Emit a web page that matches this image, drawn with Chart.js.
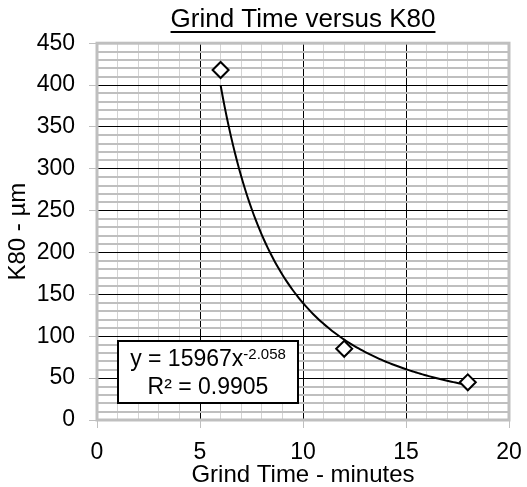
<!DOCTYPE html>
<html lang="en">
<head>
    <meta charset="UTF-8">
    <title>Grind Time versus K80</title>
    <script src="https://cdn.jsdelivr.net/npm/chart.js"></script>
    <style>
        html, body { margin: 0; padding: 0; background: #ffffff; }
        #wrap { width: 527px; height: 487px; }
    </style>
</head>
<body>
    <div id="wrap"><canvas id="grindChart" width="527" height="487"></canvas></div>

    <script>
        // data
        const grindTimes = [6, 12, 18];
        const k80Values = [418, 85, 45];

        // power trendline shown on the chart: y = a * x^b
        const trendCoef = 15967;
        const trendExp = -2.058;
        const trendLabel = ['y = 15967x', '-2.058', 'R² = 0.9905'];

        const xTicks = [0, 5, 10, 15, 20];
        const yTicks = [0, 50, 100, 150, 200, 250, 300, 350, 400, 450];

        const trendPoints = [];
        for (let i = 0; i <= 120; i++) {
            const x = grindTimes[0] + (grindTimes[grindTimes.length - 1] - grindTimes[0]) * i / 120;
            trendPoints.push({ x: x, y: trendCoef * Math.pow(x, trendExp) });
        }

        const FONT = "'Liberation Sans', Arial, sans-serif";

        // gray frame round the plot area, drawn over the grid
        const frame = {
            id: 'frame',
            beforeDatasetsDraw(chart) {
                const a = chart.chartArea, ctx = chart.ctx;
                ctx.save();
                ctx.strokeStyle = '#bfbfbf';
                ctx.lineWidth = 3;
                ctx.strokeRect(a.left, a.top, a.right - a.left, a.bottom - a.top);
                ctx.restore();
            }
        };

        // underline title + equation box
        const extras = {
            id: 'extras',
            afterDraw(chart) {
                const ctx = chart.ctx;
                ctx.save();
                // underline
                ctx.font = '26px ' + FONT;
                const tw = ctx.measureText(chart.options.plugins.title.text).width;
                const cx = (chart.chartArea.left + chart.chartArea.right) / 2;
                ctx.strokeStyle = '#000';
                ctx.lineWidth = 2;
                ctx.beginPath();
                ctx.moveTo(cx - tw / 2, 32);
                ctx.lineTo(cx + tw / 2, 32);
                ctx.stroke();

                // equation box
                const bx = 118, by = 341, bw = 180, bh = 62;
                ctx.fillStyle = '#fff';
                ctx.fillRect(bx, by, bw, bh);
                ctx.lineWidth = 2;
                ctx.strokeRect(bx, by, bw, bh);
                ctx.fillStyle = '#000';
                ctx.textBaseline = 'alphabetic';
                ctx.font = '23px ' + FONT;
                const w1 = ctx.measureText(trendLabel[0]).width;
                ctx.font = '15px ' + FONT;
                const w2 = ctx.measureText(trendLabel[1]).width;
                const sx = bx + (bw - w1 - w2) / 2;
                ctx.font = '23px ' + FONT;
                ctx.fillText(trendLabel[0], sx, by + 25);
                ctx.font = '15px ' + FONT;
                ctx.fillText(trendLabel[1], sx + w1, by + 18);
                ctx.font = '23px ' + FONT;
                ctx.textAlign = 'center';
                ctx.fillText(trendLabel[2], bx + bw / 2, by + 53);
                ctx.restore();
            }
        };

        new Chart(document.getElementById('grindChart'), {
            type: 'scatter',
            data: {
                datasets: [{
                    label: 'Trend',
                    data: trendPoints,
                    showLine: true,
                    borderColor: '#000',
                    borderWidth: 2,
                    pointRadius: 0,
                    tension: 0,
                    order: 2
                }, {
                    label: 'K80',
                    data: grindTimes.map((t, i) => ({ x: t, y: k80Values[i] })),
                    pointStyle: 'rectRot',
                    pointRadius: 8,
                    pointBackgroundColor: '#fff',
                    pointBorderColor: '#000',
                    pointBorderWidth: 2,
                    showLine: false,
                    order: 1
                }]
            },
            options: {
                responsive: false,
                animation: false,
                layout: { padding: { left: 0, right: 18, top: 0, bottom: 0 } },
                plugins: {
                    legend: { display: false },
                    tooltip: { enabled: false },
                    title: {
                        display: true,
                        fullSize: false,
                        text: 'Grind Time versus K80',
                        color: '#000',
                        font: { family: FONT, size: 26, weight: 'normal' },
                        padding: { top: 4, bottom: 8 }
                    }
                },
                scales: {
                    x: {
                        type: 'linear',
                        min: 0, max: 20,
                        afterFit: s => { s.height = 67; s.paddingRight = 0; s.paddingLeft = 0; },
                        ticks: {
                            stepSize: 1,
                            autoSkip: false,
                            maxRotation: 0,
                            color: '#000',
                            font: { family: FONT, size: 23 },
                            padding: 11,
                            callback: v => xTicks.includes(v) ? v : ''
                        },
                        grid: {
                            color: c => c.tick.value % 5 === 0 ? '#000' : '#d4d4d4',
                            lineWidth: 1,
                            tickLength: 8,
                            tickColor: c => c.tick.value % 5 === 0 ? '#bfbfbf' : 'rgba(0,0,0,0)'
                        },
                        border: { display: false },
                        title: {
                            display: true,
                            text: 'Grind Time - minutes',
                            color: '#000',
                            font: { family: FONT, size: 24 },
                            padding: { top: 0, bottom: -3 }
                        }
                    },
                    y: {
                        min: 0, max: 450,
                        afterFit: s => { s.width = 97; s.paddingTop = 0; s.paddingBottom = 0; },
                        ticks: {
                            stepSize: 10,
                            autoSkip: false,
                            color: '#000',
                            font: { family: FONT, size: 23 },
                            padding: 14,
                            callback: v => yTicks.includes(v) ? v : ''
                        },
                        grid: {
                            color: c => c.tick.value % 50 === 0 ? '#000' : '#bfbfbf',
                            lineWidth: c => c.tick.value % 50 === 0 ? 1 : 2,
                            tickLength: 8,
                            tickColor: c => c.tick.value % 50 === 0 ? '#bfbfbf' : 'rgba(0,0,0,0)'
                        },
                        border: { display: false },
                        title: {
                            display: true,
                            text: 'K80 - µm',
                            color: '#000',
                            font: { family: FONT, size: 24 },
                            padding: { top: 4, bottom: 0 }
                        }
                    }
                }
            },
            plugins: [frame, extras]
        });
    </script>
</body>
</html>
